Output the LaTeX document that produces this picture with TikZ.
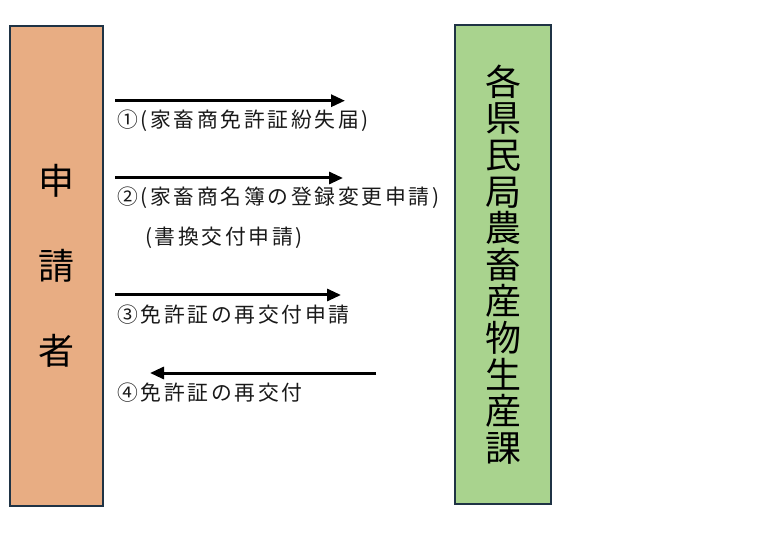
\documentclass[tikz,border=0pt]{standalone}
\usepackage{fontspec}
\setmainfont{Noto Sans CJK JP}
\newfontfamily\lblfont{Noto Sans CJK JP}[LetterSpace=13]
\usepackage{tikz}
\usetikzlibrary{positioning,arrows.meta}
\definecolor{applfill}{HTML}{E8AD83}
\definecolor{offfill}{HTML}{A9D38E}
\definecolor{boxline}{HTML}{1F3345}
\begin{document}
\begin{tikzpicture}[
      x=1pt,y=1pt,
      applbox/.style={draw=boxline,line width=1.6pt,fill=applfill,minimum width=93pt,minimum height=480pt,inner sep=0pt,align=center,font=\fontsize{36}{85}\selectfont},
      offbox/.style ={draw=boxline,line width=1.6pt,fill=offfill,minimum width=96pt,minimum height=479pt,inner sep=0pt,align=center,font=\fontsize{36}{36.6}\selectfont},
      flow/.style   ={line width=3pt,-{Triangle[length=14pt,width=12pt]}},
      lbl/.style    ={anchor=west,inner sep=0pt,font=\lblfont\fontsize{20.8}{24}\selectfont,text=black!90}]
      \useasboundingbox (0,0) rectangle (779,536);
      % Boxes
      \node[applbox] (appl) at (56.5,270) {申\\請\\者};
      \node[offbox]  (off)  at (503,271.5) {各\\県\\民\\局\\農\\畜\\産\\物\\生\\産\\課};

      % Macro: arrow at height y from x1 to x2, label below
      \newcommand{\flowstep}[5]{% name, y, x1, x2, text
        \coordinate (#1s) at (#3,#2);
        \coordinate (#1e) at (#4,#2);
        \draw[flow] (#1s) -- (#1e);
        \path (117,#2) ++(0,-20) node[lbl] (#1lbl) {#5};
      }

      % Steps
      \flowstep{S1}{435.3}{115}{345}{①(家畜商免許証紛失届)}
      \flowstep{S2}{358}{115}{343}{②(家畜商名簿の登録変更申請)}
      \flowstep{S3}{241}{115}{341}{③免許証の再交付申請}
      \flowstep{S4}{163}{376}{150}{④免許証の再交付}

      % second line of step 2
      \node[lbl] (S2lblb) at (145,298) {(書換交付申請)};
  \end{tikzpicture}
\end{document}
